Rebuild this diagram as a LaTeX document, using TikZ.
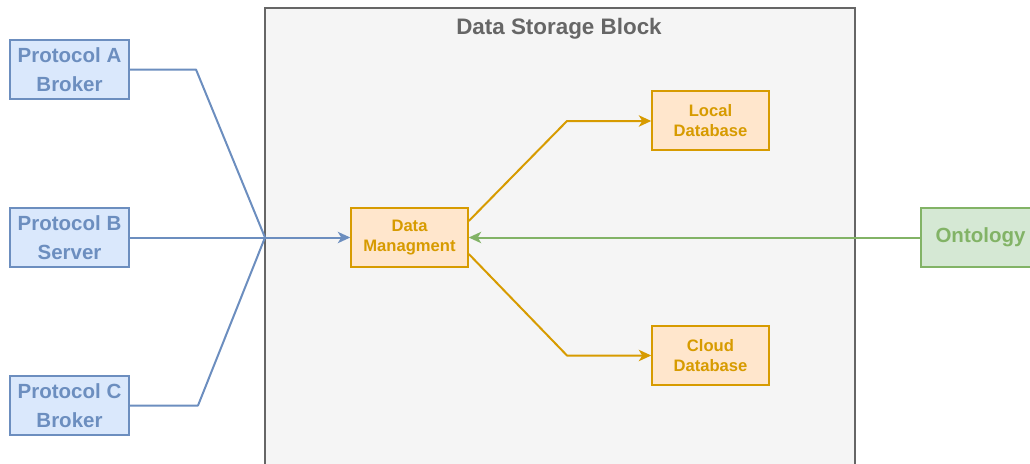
\documentclass[tikz,border=0pt]{standalone}
\usepackage{fontspec}
\setmainfont{Liberation Sans}
\definecolor{bluefill}{HTML}{DAE8FC}
\definecolor{bluedraw}{HTML}{6C8EBF}
\definecolor{orangefill}{HTML}{FFE6CC}
\definecolor{orangedraw}{HTML}{D79B00}
\definecolor{greenfill}{HTML}{D5E8D4}
\definecolor{greendraw}{HTML}{82B366}
\definecolor{groupfill}{HTML}{F5F5F5}
\definecolor{groupdraw}{HTML}{666666}
\tikzset{
  protobox/.style={draw=bluedraw, fill=bluefill, line width=1.6pt, minimum width=119pt, minimum height=59pt,
    text=bluedraw, align=center, inner sep=0pt,
    font=\fontsize{20.5}{29}\selectfont\bfseries},
  storebox/.style={draw=orangedraw, fill=orangefill, line width=1.6pt, minimum width=117pt, minimum height=59pt,
    text=orangedraw, align=center, inner sep=0pt,
    font=\fontsize{16.6}{20}\selectfont\bfseries},
  ontobox/.style={draw=greendraw, fill=greenfill, line width=1.6pt, minimum width=119pt, minimum height=59pt,
    text=greendraw, align=center, inner sep=0pt,
    font=\fontsize{20.5}{29}\selectfont\bfseries},
  link/.style={line width=2pt, line join=round},
}
% filled stealth-like head: colour, tip point, direction angle
\newcommand{\headat}[3]{%
  \fill[#1, shift={(#2)}, rotate=#3] (0,0) -- (-12.5,-5.8) -- (-9,0) -- (-12.5,5.8) -- cycle;}
\begin{document}
\begin{tikzpicture}[x=1pt, y=-1pt]
\useasboundingbox (0,0) rectangle (1030,463);

% storage group
\draw[groupdraw, fill=groupfill, line width=2.2pt] (265,8) rectangle (855,490);
\node[text=groupdraw, font=\fontsize{22.4}{26}\selectfont\bfseries] (title) at (559,29) {Data Storage Block};

% protocol endpoints
\node[protobox] (pa) at (69.5,69.5) {Protocol A\\Broker};
\node[protobox] (pb) at (69.5,237.5) {Protocol B\\Server};
\node[protobox] (pc) at (69.5,405.5) {Protocol C\\Broker};

% storage components
\node[storebox] (dm) at (409.5,237.5) {Data\\Managment};
\node[storebox] (ld) at (710.5,120.5) {Local\\Database};
\node[storebox] (cd) at (710.5,355.5) {Cloud\\Database};

% ontology
\node[ontobox] (on) at (980.5,237.5) {Ontology};

% routing points
\coordinate (ja) at (196,69.5);
\coordinate (jc) at (198,405.5);
\coordinate (jm) at (265,237.5);
\coordinate (ku) at (567,121);
\coordinate (kd) at (567,355.5);
\coordinate (lin) at (ld.west |- ku);
\coordinate (cin) at (cd.west |- kd);
% line ends just behind each head
\coordinate (dmin) at ([xshift=-7pt]dm.west);
\coordinate (dmon) at ([xshift=7pt]dm.east);
\coordinate (linb) at ([xshift=-7pt]lin);
\coordinate (cinb) at ([xshift=-7pt]cin);

% protocol links
\draw[bluedraw, link] (pa.east) -- (ja) -- (jm);
\draw[bluedraw, link] (pc.east) -- (jc) -- (jm);
\draw[bluedraw, link] (pb.east) -- (dmin);
\headat{bluedraw}{dm.west}{0}

% storage links
\draw[orangedraw, link] (dm.east |- 0,221) -- (ku) -- (linb);
\headat{orangedraw}{lin}{0}
\draw[orangedraw, link] (dm.east |- 0,254) -- (kd) -- (cinb);
\headat{orangedraw}{cin}{0}

% ontology link
\draw[greendraw, link] (on.west) -- (dmon);
\headat{greendraw}{dm.east}{180}
\end{tikzpicture}
\end{document}
